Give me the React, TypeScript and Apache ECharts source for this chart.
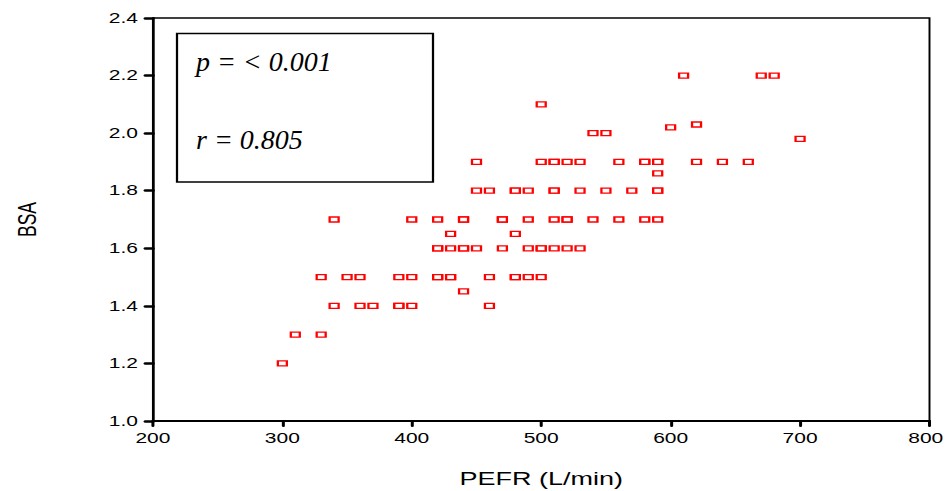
import React, { useEffect, useRef } from "react";
import * as echarts from "echarts";

// PEFR (L/min) and BSA observations
const pefr: number[] = [
  300,
  310, 330,
  340, 360, 370, 390, 390, 400, 460,
  440,
  330, 350, 360, 390, 400, 420, 420, 430, 430, 460, 480, 480, 490, 500,
  420, 420, 430, 440, 440, 450, 470, 490, 500, 500, 510, 520, 530,
  430, 480,
  340, 400, 420, 440, 440, 470, 470, 490, 510, 520, 520, 540, 560, 580, 590,
  450, 460, 480, 480, 490, 510, 510, 530, 550, 570, 590, 590,
  590,
  450, 500, 510, 510, 520, 530, 560, 580, 580, 590, 590, 620, 640, 660,
  700,
  540, 550,
  600,
  620,
  500,
  610, 670, 680,
];
const bsa: number[] = [
  1.2,
  1.3, 1.3,
  1.4, 1.4, 1.4, 1.4, 1.4, 1.4, 1.4,
  1.45,
  1.5, 1.5, 1.5, 1.5, 1.5, 1.5, 1.5, 1.5, 1.5, 1.5, 1.5, 1.5, 1.5, 1.5,
  1.6, 1.6, 1.6, 1.6, 1.6, 1.6, 1.6, 1.6, 1.6, 1.6, 1.6, 1.6, 1.6,
  1.65, 1.65,
  1.7, 1.7, 1.7, 1.7, 1.7, 1.7, 1.7, 1.7, 1.7, 1.7, 1.7, 1.7, 1.7, 1.7, 1.7,
  1.8, 1.8, 1.8, 1.8, 1.8, 1.8, 1.8, 1.8, 1.8, 1.8, 1.8, 1.8,
  1.86,
  1.9, 1.9, 1.9, 1.9, 1.9, 1.9, 1.9, 1.9, 1.9, 1.9, 1.9, 1.9, 1.9, 1.9,
  1.98,
  2.0, 2.0,
  2.02,
  2.03,
  2.1,
  2.2, 2.2, 2.2,
];

const statLines: string[] = ["p = < 0.001", "r = 0.805"];
const xTitle = "PEFR (L/min)";
const yTitle = "BSA";
const X_MIN = 200;
const X_MAX = 800;

const W = 631; // unstretched width
const S = 946 / W; // horizontal stretch of the reference picture

export default function App() {
  const ref = useRef<HTMLDivElement>(null);
  useEffect(() => {
    if (!ref.current) return;
    const chart = echarts.init(ref.current, undefined, { renderer: "svg", width: W, height: 491 });
    const points = pefr.map((x, i) => [x, bsa[i]]);
    const labelFont = { fontFamily: "Liberation Sans", fontSize: 14, color: "#000" };
    chart.setOption({
      animation: false,
      backgroundColor: "#fff",
      grid: {
        left: 102,
        right: W - 929.5 / S,
        top: 18,
        bottom: 70,
        outerBoundsMode: "none",
        containLabel: false,
        show: true,
        borderColor: "#000",
        borderWidth: 1.3,
        backgroundColor: "transparent",
      },
      xAxis: {
        type: "value",
        min: X_MIN,
        max: X_MAX,
        interval: 100,
        name: xTitle,
        nameLocation: "middle",
        nameGap: 49,
        nameTextStyle: { fontFamily: "Liberation Sans", fontSize: 18, color: "#000" },
        axisLine: { show: true, onZero: false, lineStyle: { color: "#000", width: 2 } },
        axisTick: { show: true, length: 5, lineStyle: { color: "#000", width: 2, cap: "round" } },
        axisLabel: {
          ...labelFont,
          margin: 10,
          formatter: (v: number) => (v === X_MAX ? `{e|${v}}` : `${v}`),
          rich: { e: { ...labelFont, padding: [0, 5, 0, 0] } },
        },
        splitLine: { show: false },
      },
      yAxis: {
        type: "value",
        min: 1.0,
        max: 2.4,
        interval: 0.2,
        name: yTitle,
        nameLocation: "middle",
        nameGap: 75,
        nameTextStyle: { fontFamily: "Liberation Sans", fontSize: 17.5, color: "#000" },
        axisLine: { show: true, onZero: false, lineStyle: { color: "#000", width: 1.4 } },
        axisTick: { show: true, length: 5, lineStyle: { color: "#000", width: 2.5, cap: "round" } },
        axisLabel: {
          ...labelFont,
          margin: 10,
          formatter: (v: number) => v.toFixed(1),
        },
        splitLine: { show: false },
      },
      series: [
        {
          type: "scatter",
          data: points,
          symbol: "rect",
          symbolSize: [6, 5],
          itemStyle: { color: "#fff", borderColor: "#ff0000", borderWidth: 1.4, opacity: 1 },
          emphasis: { disabled: true },
        },
      ],
      graphic: [
        {
          type: "rect",
          shape: { x: 177 / S, y: 33.5, width: 256 / S, height: 148.5 },
          style: { fill: "#fff", stroke: "#000", lineWidth: 1.5 },
          z: 10,
        },
        {
          type: "text",
          x: 196 / S,
          y: 61.5,
          scaleX: 1 / S,
          z: 11,
          style: {
            text: statLines[0],
            fontFamily: "Liberation Serif",
            fontStyle: "italic",
            fontSize: 28,
            fill: "#000",
            verticalAlign: "middle",
          },
        },
        {
          type: "text",
          x: 196 / S,
          y: 139.5,
          scaleX: 1 / S,
          z: 11,
          style: {
            text: statLines[1],
            fontFamily: "Liberation Serif",
            fontStyle: "italic",
            fontSize: 28,
            fill: "#000",
            verticalAlign: "middle",
          },
        },
      ],
    });
    return () => chart.dispose();
  }, []);
  return (
    <div
      style={{
        position: "fixed",
        left: 0,
        top: 0,
        width: 946,
        height: 491,
        overflow: "hidden",
        background: "#fff",
      }}
    >
      <div
        ref={ref}
        style={{
          width: W,
          height: 491,
          transform: `scaleX(${S})`,
          transformOrigin: "0 0",
        }}
      />
    </div>
  );
}
